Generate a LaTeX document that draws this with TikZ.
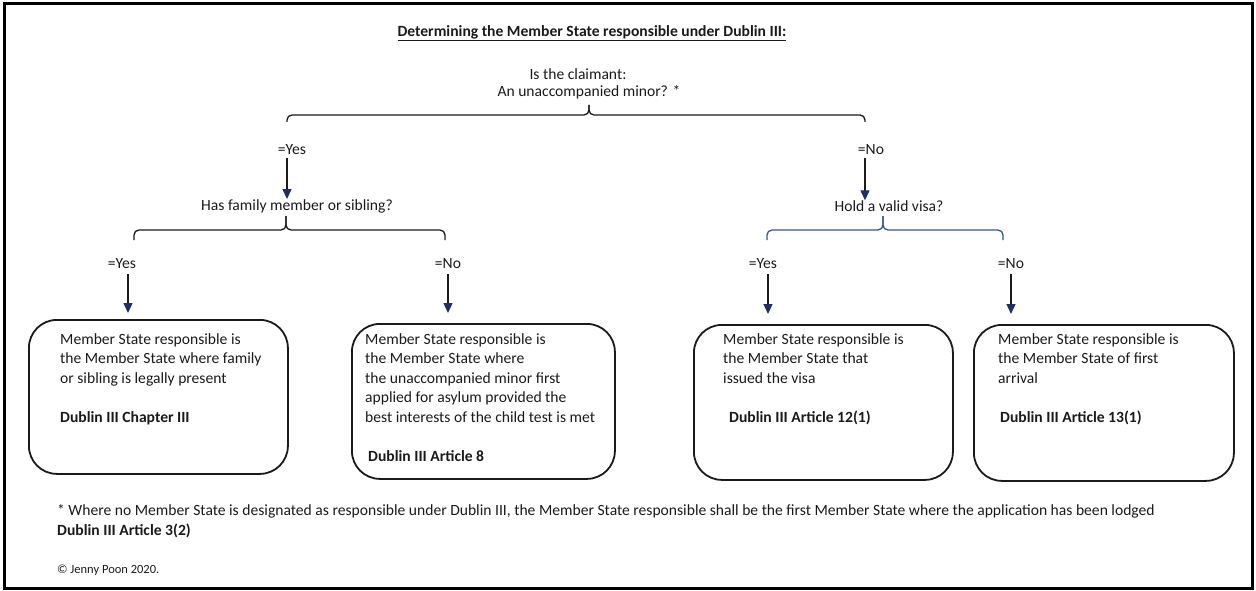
\documentclass[tikz,border=0pt]{standalone}
\usepackage{fontspec}
\setmainfont{Carlito}
\usetikzlibrary{arrows.meta}
\definecolor{navy}{HTML}{1F2F66}
\definecolor{bracecol}{HTML}{34558F}
\definecolor{ink}{HTML}{1A1A1A}
\begin{document}
\begin{tikzpicture}[x=1pt,y=-1pt,
  every node/.style={font=\fontsize{15.6}{19.5}\selectfont, text=ink, inner sep=0pt},
  lbl/.style={anchor=center},
  arr/.style={draw=ink, line width=1.3pt, -{Triangle[length=10pt,width=9pt,color=navy]}},
  brc/.style={draw=ink, line width=1.3pt, rounded corners=5pt},
  outbox/.style={draw=ink, line width=1.8pt, rounded corners=28pt, anchor=north west},
  boxtext/.style={anchor=north west, align=left},
  foot/.style={anchor=base west},
]
\useasboundingbox (0,0) rectangle (1256,591);
\draw[line width=3pt, draw=black] (4,4) rectangle (1252,588);

% title and first question
\node (title) at (592,33) {\bfseries\underline{Determining the Member State responsible under Dublin III:}};
\node[align=center, font=\fontsize{15.6}{17}\selectfont] (q1) at (589,84) {Is the claimant:\hspace*{22pt}\\An unaccompanied minor? *};

% top brace
\coordinate (t1L) at (287,122);
\coordinate (t1R) at (865,122);
\coordinate (t1T) at (589,105);
\draw[brc] (t1L) -- (t1L |- 0,115) -- (t1T |- 0,115) -- (t1T);
\draw[brc] (t1R) -- (t1R |- 0,115) -- (t1T |- 0,115) -- (t1T);

% second level labels
\node[lbl] (yesA) at (292,150) {=Yes};
\node[lbl] (noA) at (871,150) {=No};
\node[lbl] (q2) at (297,206) {Has family member or sibling?};
\node[lbl] (q3) at (889,206) {Hold a valid visa?};
\draw[arr, shorten <=3pt] (yesA.south -| t1L) -- (q2.north -| t1L);
\draw[arr, shorten <=3pt] (noA.south -| t1R) -- (q3.north -| t1R);

% second braces
\coordinate (t2L) at (134,240);
\coordinate (t2R) at (445,240);
\coordinate (t2T) at (286,216);
\draw[brc] (t2L) -- (t2L |- 0,230) -- (t2T |- 0,230) -- (t2T);
\draw[brc] (t2R) -- (t2R |- 0,230) -- (t2T |- 0,230) -- (t2T);
\coordinate (t3L) at (767,240);
\coordinate (t3R) at (1003,240);
\coordinate (t3T) at (883,216);
\draw[brc, draw=bracecol] (t3L) -- (t3L |- 0,230) -- (t3T |- 0,230) -- (t3T);
\draw[brc, draw=bracecol] (t3R) -- (t3R |- 0,230) -- (t3T |- 0,230) -- (t3T);

% third level labels
\node[lbl] (yesB) at (122,264) {=Yes};
\node[lbl] (noB) at (448,264) {=No};
\node[lbl] (yesC) at (763,264) {=Yes};
\node[lbl] (noC) at (1011,264) {=No};

% boxes
\node[outbox, minimum width=259pt, minimum height=154pt] (b1) at (28,319) {};
\node[outbox, minimum width=263pt, minimum height=155pt] (b2) at (351,323) {};
\node[outbox, minimum width=259pt, minimum height=155pt] (b3) at (693,324) {};
\node[outbox, minimum width=260pt, minimum height=156pt] (b4) at (973,324) {};

\coordinate (c1) at (128,0);
\coordinate (c2) at (448,0);
\coordinate (c3) at (768,0);
\coordinate (c4) at (1011,0);
\draw[arr, shorten <=5pt, shorten >=6pt] (yesB.south -| c1) -- (b1.north -| c1);
\draw[arr, shorten <=5pt, shorten >=10pt] (noB.south -| c2) -- (b2.north -| c2);
\draw[arr, shorten <=5pt, shorten >=10pt] (yesC.south -| c3) -- (b3.north -| c3);
\draw[arr, shorten <=5pt, shorten >=10pt] (noC.south -| c4) -- (b4.north -| c4);

% box texts
\node[boxtext] (x1) at (60,333) {Member State responsible is\\the Member State where family\\or sibling is legally present\\[19.5pt]\textbf{Dublin III Chapter III}};
\node[boxtext] (x2) at (365,333) {Member State responsible is\\the Member State where\\the unaccompanied minor first\\applied for asylum provided the\\best interests of the child test is met\\[19.5pt]\hspace*{3pt}\textbf{Dublin III Article 8}};
\node[boxtext] (x3) at (723,333) {Member State responsible is\\the Member State that\\issued the visa\\[19.5pt]\hspace*{6pt}\textbf{Dublin III Article 12(1)}};
\node[boxtext] (x4) at (998,333) {Member State responsible is\\the Member State of first\\arrival\\[19.5pt]\hspace*{2pt}\textbf{Dublin III Article 13(1)}};

% footnote
\node[foot] (f1) at (57,515) {* Where no Member State is designated as responsible under Dublin III, the Member State responsible shall be the first Member State where the application has been lodged};
\node[foot] (f2) at (57,535) {\textbf{Dublin III Article 3(2)}};
\node[foot, font=\fontsize{12.5}{15}\selectfont] (cr) at (57,573) {© Jenny Poon 2020.};
\end{tikzpicture}
\end{document}
